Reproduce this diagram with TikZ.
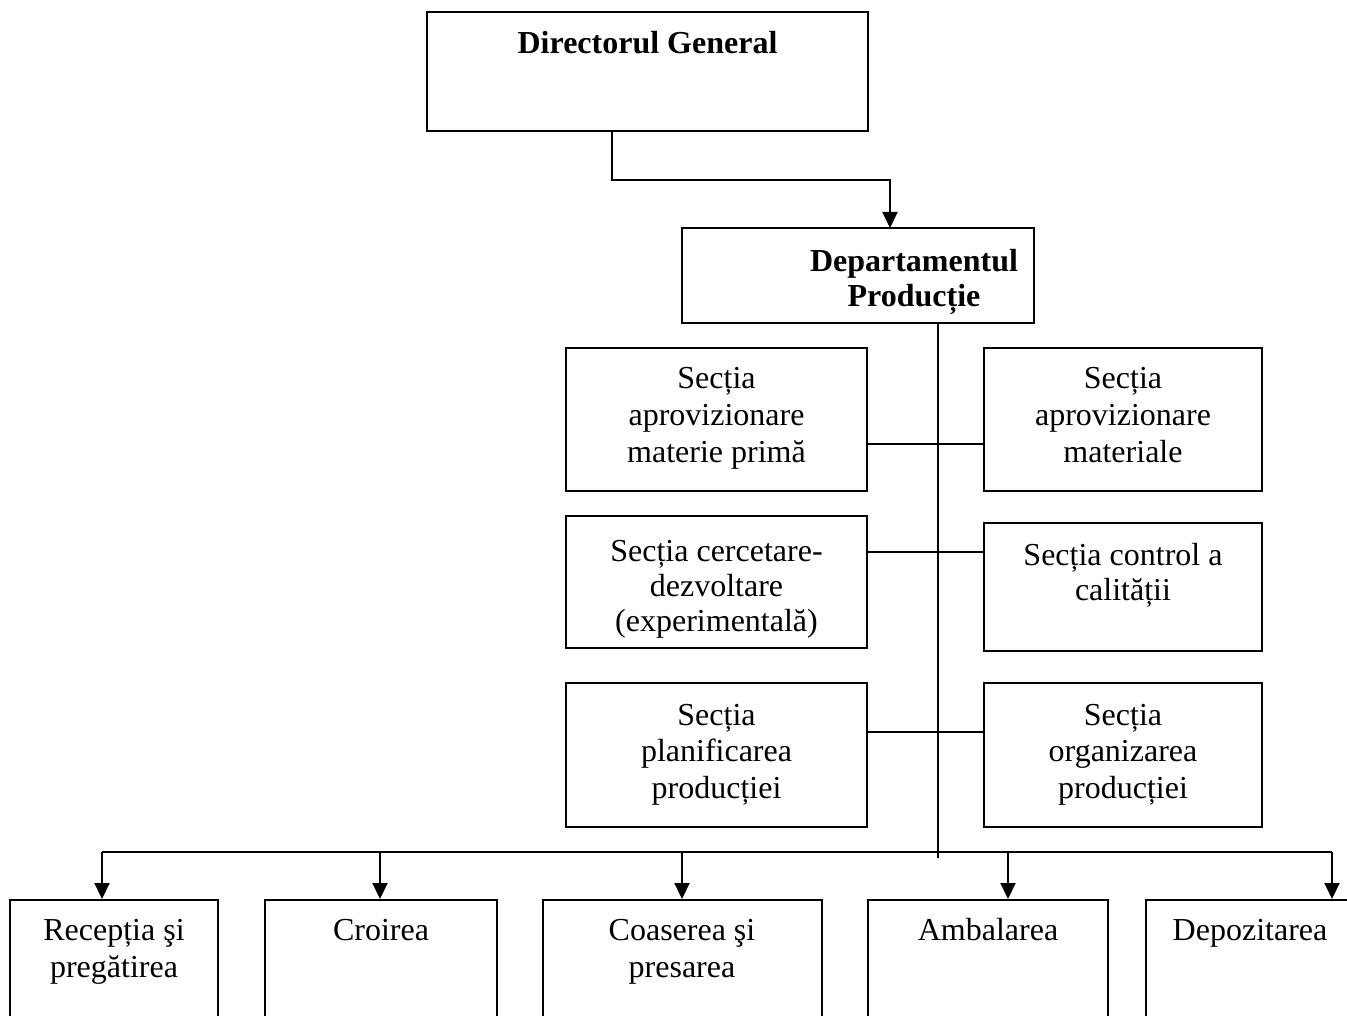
\documentclass[tikz,border=0pt]{standalone}
\usepackage{fontspec}
\setmainfont{Liberation Serif}
\usetikzlibrary{arrows.meta,fit}
\tikzset{
  box/.style={draw, line width=2pt, rectangle, inner sep=0pt},
  link/.style={line width=2pt},
  arr/.style={line width=2pt, -{Triangle[length=16pt,width=15pt]}},
  txt/.style={font=\fontsize{32}{#1}\selectfont, align=center, inner sep=0pt, anchor=north},
}
\begin{document}
\begin{tikzpicture}[x=1pt,y=-1pt]
\useasboundingbox (0,0) rectangle (1347,1016);
\clip (0,0) rectangle (1347,1016);
% boxes
\node[box, fit={(427,12) (868,131)}] (dir) {};
\node[box, fit={(682,228) (1034,323)}] (dep) {};
\node[box, fit={(566,348) (867,491)}] (r1l) {};
\node[box, fit={(984,348) (1262,491)}] (r1r) {};
\node[box, fit={(566,516) (867,648)}] (r2l) {};
\node[box, fit={(984,523) (1262,651)}] (r2r) {};
\node[box, fit={(566,683) (867,827)}] (r3l) {};
\node[box, fit={(984,683) (1262,827)}] (r3r) {};
\node[box, fit={(10,900) (218,1060)}] (b1) {};
\node[box, fit={(265,900) (497,1060)}] (b2) {};
\node[box, fit={(543,900) (822,1060)}] (b3) {};
\node[box, fit={(868,900) (1108,1060)}] (b4) {};
\node[box, fit={(1146,900) (1354,1060)}] (b5) {};
% texts
\node[txt=36] (tdir) at (647.5,27.8) {\strut\bfseries Directorul General};
\node[txt=35] (tdep) at (914,246.5) {\strut\bfseries Departamentul\\\bfseries Producție};
\node[txt=37] (tr1l) at (716.5,362.1) {\strut Secția\\aprovizionare\\materie primă};
\node[txt=37] (tr1r) at (1123,362.1) {\strut Secția\\aprovizionare\\materiale};
\node[txt=35] (tr2l) at (716.5,536.5) {\strut Secția cercetare-\\dezvoltare\\(experimentală)};
\node[txt=35] (tr2r) at (1123,540.5) {\strut Secția control a\\calității};
\node[txt=36.5] (tr3l) at (716.5,699.45) {\strut Secția\\planificarea\\producției};
\node[txt=36.5] (tr3r) at (1123,699.45) {\strut Secția\\organizarea\\producției};
\node[txt=37] (tb1) at (114,914.1) {\strut Recepția şi\\pregătirea};
\node[txt=37] (tb2) at (381,914.1) {\strut Croirea};
\node[txt=37] (tb3) at (682,914.1) {\strut Coaserea şi\\presarea};
\node[txt=37] (tb4) at (988,914.1) {\strut Ambalarea};
\node[txt=37] (tb5) at (1250,914.1) {\strut Depozitarea};
% connectors
\coordinate (dirout) at (612,131);
\coordinate (depin) at (890,228);
\draw[arr] (dirout) -- ++(0,49) -| (depin);
\coordinate (spinetop) at (938,323);
\coordinate (spineend) at (938,858);
\draw[link] (spinetop) -- (spineend);
\draw[link] (r1l.east |- 0,444) -- (r1r.west |- 0,444);
\draw[link] (r2l.east |- 0,552) -- (r2r.west |- 0,552);
\draw[link] (r3l.east |- 0,732) -- (r3r.west |- 0,732);
\coordinate (t1) at (102,852);
\coordinate (t2) at (380,852);
\coordinate (t3) at (682,852);
\coordinate (t4) at (1008,852);
\coordinate (t5) at (1332,852);
\draw[link] (t1) -- (t5);
\draw[arr] (t1) -- (b1.north -| t1);
\draw[arr] (t2) -- (b2.north -| t2);
\draw[arr] (t3) -- (b3.north -| t3);
\draw[arr] (t4) -- (b4.north -| t4);
\draw[arr] (t5) -- (b5.north -| t5);
\end{tikzpicture}
\end{document}
